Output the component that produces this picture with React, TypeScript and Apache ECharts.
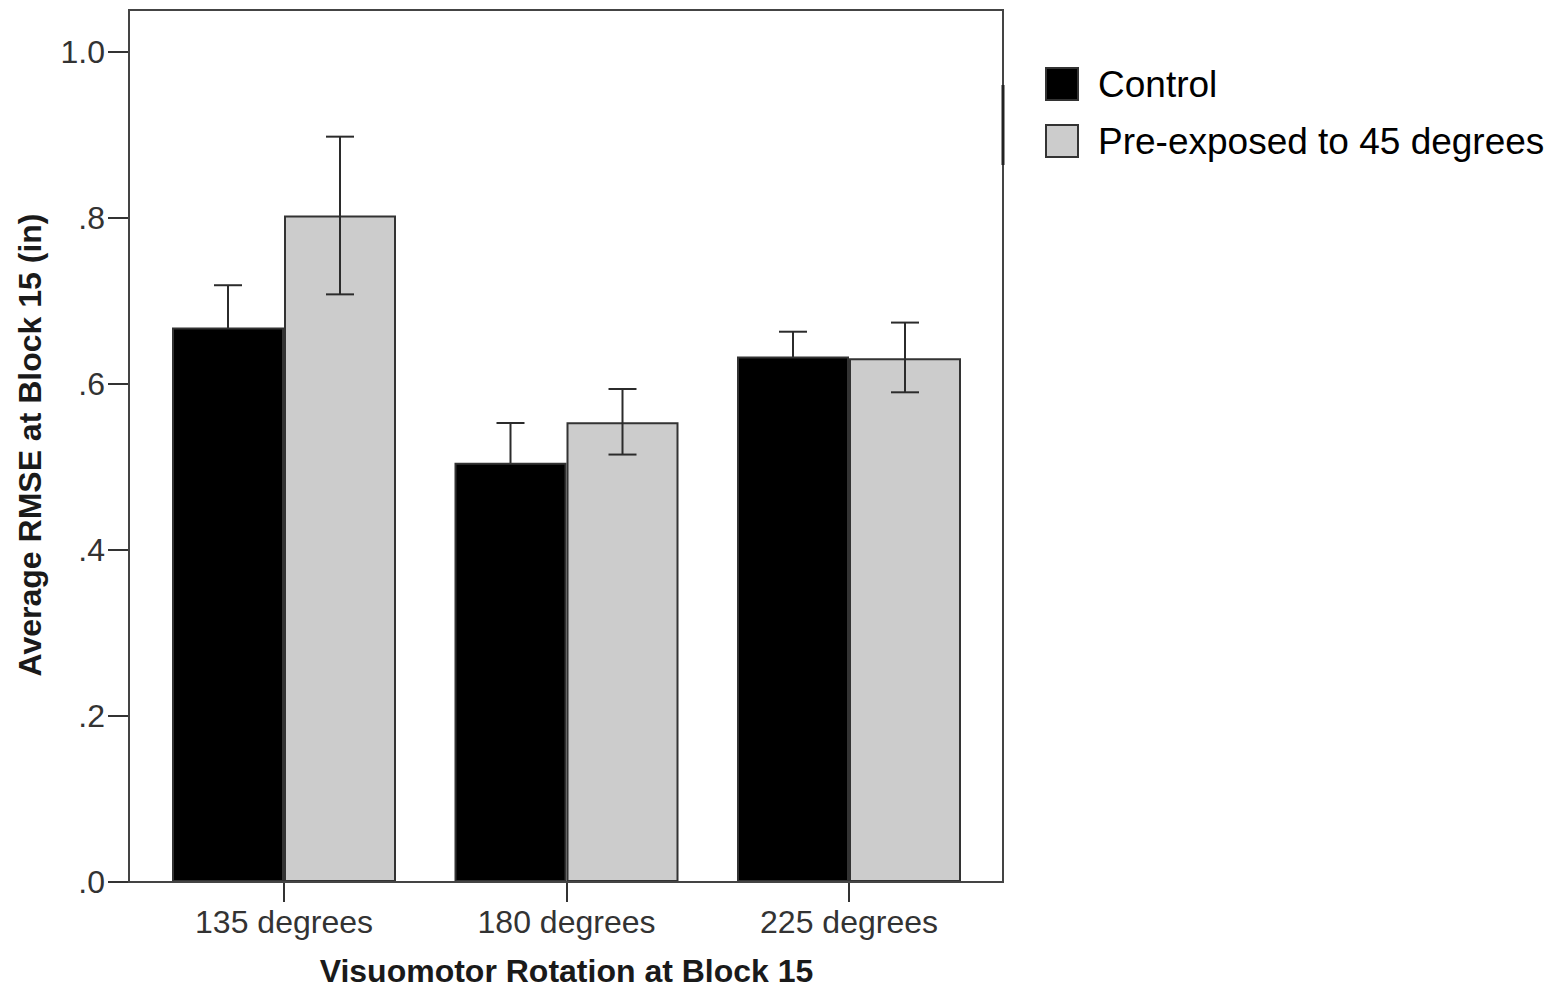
import React, { useEffect, useRef } from "react";
import * as echarts from "echarts";

const categories = ["135 degrees", "180 degrees", "225 degrees"];
const seriesNames = ["Control", "Pre-exposed to 45 degrees"];
const controlMean = [0.668, 0.505, 0.633];
const controlLow = [0.617, 0.457, 0.603];
const controlHigh = [0.719, 0.553, 0.663];
const preMean = [0.803, 0.554, 0.631];
const preLow = [0.708, 0.515, 0.59];
const preHigh = [0.898, 0.594, 0.674];
const yTicks = [0, 0.2, 0.4, 0.6, 0.8, 1.0];

const FONT = "'Liberation Sans', Arial, sans-serif";
const BAR_W = 112;

function errorRenderer(offset: number) {
  return (params: any, api: any) => {
    const cat = api.value(0);
    const lo = api.coord([cat, api.value(1)]);
    const hi = api.coord([cat, api.value(2)]);
    const x = lo[0] + offset;
    const cap = 14;
    const style = { stroke: "#2b2b2b", lineWidth: 2 };
    return {
      type: "group",
      children: [
        { type: "line", shape: { x1: x, y1: lo[1], x2: x, y2: hi[1] }, style },
        { type: "line", shape: { x1: x - cap, y1: hi[1], x2: x + cap, y2: hi[1] }, style },
        { type: "line", shape: { x1: x - cap, y1: lo[1], x2: x + cap, y2: lo[1] }, style },
      ],
    };
  };
}

export default function App() {
  const ref = useRef<HTMLDivElement>(null);
  useEffect(() => {
    if (!ref.current) return;
    const chart = echarts.init(ref.current, undefined, { renderer: "svg" });
    const gridLeft = 142.75;
    const gridRight = 1566 - 990.25;
    chart.setOption({
      animation: false,
      backgroundColor: "#ffffff",
      textStyle: { fontFamily: FONT },
      grid: {
        left: gridLeft,
        right: gridRight,
        top: 52,
        bottom: 107,
        containLabel: false,
        outerBoundsMode: "none",
      },
      legend: {
        orient: "vertical",
        left: 1045,
        top: 65.5,
        padding: 0,
        itemWidth: 32,
        itemHeight: 32,
        itemGap: 20,
        icon: "rect",
        data: seriesNames,
        textStyle: {
          fontFamily: FONT,
          fontSize: 37,
          color: "#000",
          lineHeight: 32,
          padding: [0, 0, 0, 15],
        },
      },
      xAxis: {
        type: "category",
        data: categories,
        axisLine: { show: false },
        axisTick: {
          show: true,
          alignWithLabel: true,
          length: 20,
          lineStyle: { color: "#333", width: 2 },
        },
        axisLabel: { fontSize: 32, color: "#333", margin: 24, fontFamily: FONT },
        name: "Visuomotor Rotation at Block 15",
        nameLocation: "middle",
        nameGap: 73,
        nameTextStyle: { fontSize: 32, fontWeight: "bold", color: "#1a1a1a", fontFamily: FONT },
      },
      yAxis: {
        type: "value",
        min: 0,
        max: 1.0,
        interval: 0.2,
        offset: gridLeft - 129,
        axisLine: { show: false },
        splitLine: { show: false },
        axisTick: { show: true, length: 21, lineStyle: { color: "#333", width: 2 } },
        axisLabel: {
          fontSize: 32,
          color: "#333",
          margin: 24,
          fontFamily: FONT,
          formatter: (v: number) => {
            const t = yTicks.find((k) => Math.abs(k - v) < 1e-6);
            if (t === undefined) return "";
            return t >= 1 ? t.toFixed(1) : t.toFixed(1).replace(/^0/, "");
          },
        },
      },
      graphic: [
        {
          type: "rect",
          shape: { x: 129, y: 10, width: 874, height: 872 },
          style: { fill: "none", stroke: "#444", lineWidth: 2 },
          z: 100,
          silent: true,
        },
        {
          type: "line",
          shape: { x1: 1003, y1: 85, x2: 1003, y2: 165 },
          style: { stroke: "#222", lineWidth: 3 },
          z: 101,
          silent: true,
        },
        {
          type: "text",
          x: 30,
          y: 445,
          rotation: Math.PI / 2,
          style: {
            text: "Average RMSE at Block 15 (in)",
            font: `bold 32px ${FONT}`,
            fill: "#1a1a1a",
            textAlign: "center",
            textVerticalAlign: "middle",
          },
        },
      ],
      series: [
        {
          name: "Control-err",
          type: "custom",
          z: 1,
          renderItem: errorRenderer(-BAR_W / 2),
          data: categories.map((_, i) => [i, controlLow[i], controlHigh[i]]),
          silent: true,
        },
        {
          name: seriesNames[0],
          type: "bar",
          z: 2,
          barWidth: BAR_W,
          barGap: "0%",
          data: controlMean,
          itemStyle: { color: "#000000", borderColor: "#333", borderWidth: 2 },
        },
        {
          name: seriesNames[1],
          type: "bar",
          z: 2,
          barWidth: BAR_W,
          barGap: "0%",
          data: preMean,
          itemStyle: { color: "#cccccc", borderColor: "#333", borderWidth: 2 },
        },
        {
          name: "Pre-err",
          type: "custom",
          z: 3,
          renderItem: errorRenderer(BAR_W / 2),
          data: categories.map((_, i) => [i, preLow[i], preHigh[i]]),
          silent: true,
        },
      ],
    });
    return () => chart.dispose();
  }, []);
  return (
    <div
      ref={ref}
      style={{ position: "fixed", left: 0, top: 0, width: 1566, height: 989 }}
    />
  );
}
